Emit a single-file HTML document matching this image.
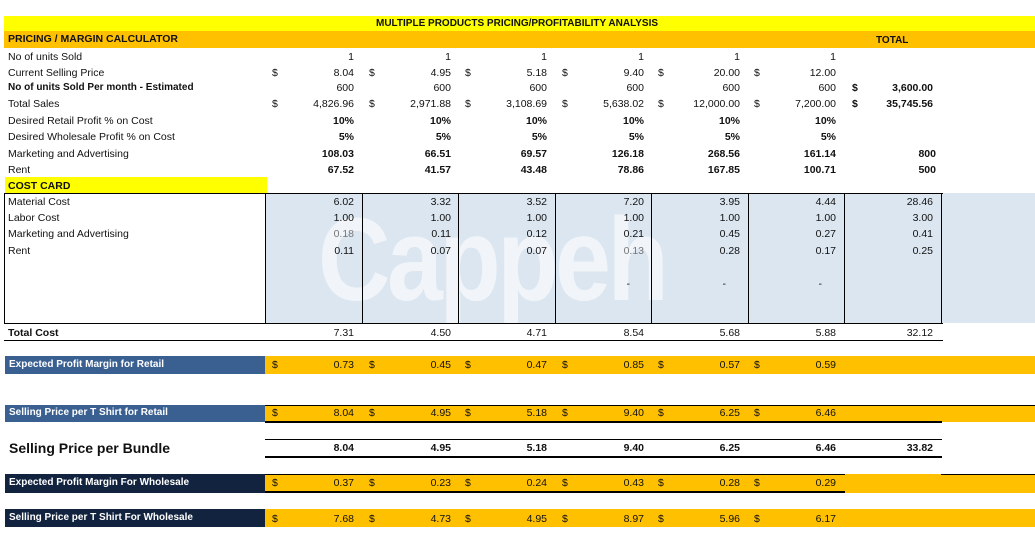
<!DOCTYPE html>
<html><head><meta charset="utf-8"><style>
*{margin:0;padding:0;box-sizing:border-box}
body{width:1035px;height:535px;background:#fff;position:relative;overflow:hidden;font-family:"Liberation Sans",Arial,sans-serif;font-size:10.5px;color:#111}
div{position:absolute}
.t{white-space:nowrap;line-height:14px}
.r{white-space:nowrap;line-height:14px;text-align:right;width:100px}
.b{font-weight:bold}
.w{color:#fff;font-weight:bold}
.g{color:#777}
.hl{height:1px;background:#000}
.hl2{height:2px;background:#000}
.vl{width:1px;background:#000}
</style></head><body>
<!-- bands -->
<div style="left:4px;top:16px;width:1031px;height:15px;background:#ffff00"></div>
<div style="left:4px;top:31px;width:1031px;height:17px;background:#ffc000"></div>
<div class="t b" style="left:376px;top:17px;font-size:10px">MULTIPLE PRODUCTS PRICING/PROFITABILITY ANALYSIS</div>
<div class="t b" style="left:8px;top:32px">PRICING / MARGIN CALCULATOR</div>
<div class="t b" style="left:876px;top:34px;font-size:10px">TOTAL</div>

<!-- cost card light blue -->
<div style="left:265px;top:193px;width:770px;height:130px;background:#dce6f0"></div>
<div style="left:318px;top:190px;width:420px;font-size:118px;font-weight:bold;color:#fff;opacity:.6;line-height:140px;letter-spacing:-4px;transform:scaleX(.85);transform-origin:left">Cappeh</div>

<!-- labels -->
<div class="t" style="left:8px;top:50px">No of units Sold</div>
<div class="t" style="left:8px;top:66px">Current Selling Price</div>
<div class="t b" style="left:8px;top:81px;font-size:10px">No of units Sold Per month - Estimated</div>
<div class="t" style="left:8px;top:97px">Total Sales</div>
<div class="t" style="left:8px;top:114px">Desired Retail Profit % on Cost</div>
<div class="t" style="left:8px;top:130px">Desired Wholesale Profit % on Cost</div>
<div class="t" style="left:8px;top:147px">Marketing and Advertising</div>
<div class="t" style="left:8px;top:163px">Rent</div>
<div style="left:5px;top:177px;width:262px;height:16px;background:#ffff00"></div>
<div class="t b" style="left:8px;top:179px">COST CARD</div>
<div class="t" style="left:8px;top:195px">Material Cost</div>
<div class="t" style="left:8px;top:211px">Labor Cost</div>
<div class="t" style="left:8px;top:227px">Marketing and Advertising</div>
<div class="t" style="left:8px;top:244px">Rent</div>
<div class="t b" style="left:8px;top:326px">Total Cost</div>

<!-- cost box lines -->
<div class="hl" style="left:4px;top:193px;width:939px"></div>
<div class="hl" style="left:4px;top:323px;width:939px"></div>
<div class="vl" style="left:4px;top:193px;height:131px"></div>
<div class="vl" style="left:265px;top:193px;height:131px"></div>
<div class="vl" style="left:362px;top:193px;height:131px"></div>
<div class="vl" style="left:458px;top:193px;height:131px"></div>
<div class="vl" style="left:555px;top:193px;height:131px"></div>
<div class="vl" style="left:651px;top:193px;height:131px"></div>
<div class="vl" style="left:748px;top:193px;height:131px"></div>
<div class="vl" style="left:844px;top:193px;height:131px"></div>
<div class="vl" style="left:941px;top:193px;height:131px"></div>
<div class="hl" style="left:4px;top:340px;width:939px"></div>

<!-- colored bars -->
<div style="left:5px;top:356px;width:260px;height:18px;background:#3a6092"></div>
<div style="left:265px;top:356px;width:770px;height:18px;background:#ffc000"></div>
<div class="t w" style="left:9px;top:358px;font-size:10px">Expected Profit Margin for Retail</div>

<div style="left:5px;top:405px;width:260px;height:17px;background:#3a6092"></div>
<div style="left:265px;top:405px;width:770px;height:17px;background:#ffc000"></div>
<div class="hl" style="left:265px;top:405px;width:770px"></div>
<div class="hl2" style="left:265px;top:421px;width:677px"></div>
<div class="t w" style="left:9px;top:406px;font-size:10px">Selling Price per T Shirt for Retail</div>

<div class="t b" style="left:9px;top:439px;font-size:14px;line-height:18px">Selling Price per Bundle</div>
<div class="hl" style="left:265px;top:439px;width:677px"></div>
<div class="hl2" style="left:265px;top:456px;width:677px"></div>

<div style="left:5px;top:474px;width:260px;height:19px;background:#12233f"></div>
<div style="left:265px;top:474px;width:770px;height:19px;background:#ffc000"></div>
<div class="hl" style="left:265px;top:474px;width:580px"></div>
<div class="hl" style="left:941px;top:474px;width:94px"></div>
<div class="hl2" style="left:265px;top:491px;width:580px"></div>
<div class="t w" style="left:9px;top:476px;font-size:10px">Expected Profit Margin For Wholesale</div>

<div style="left:5px;top:509px;width:260px;height:18px;background:#12233f"></div>
<div style="left:265px;top:509px;width:770px;height:18px;background:#ffc000"></div>
<div class="t w" style="left:9px;top:511px;font-size:10px">Selling Price per T Shirt For Wholesale</div>

<!-- column 1 -->
<div class="r" style="left:254px;top:50px">1</div>
<div class="t" style="left:272px;top:66px">$</div><div class="r" style="left:254px;top:66px">8.04</div>
<div class="r" style="left:254px;top:81px">600</div>
<div class="t" style="left:272px;top:97px">$</div><div class="r" style="left:254px;top:97px">4,826.96</div>
<div class="r b" style="left:254px;top:114px">10%</div>
<div class="r b" style="left:254px;top:130px">5%</div>
<div class="r b" style="left:254px;top:147px">108.03</div>
<div class="r b" style="left:254px;top:163px">67.52</div>
<div class="r" style="left:254px;top:195px">6.02</div>
<div class="r" style="left:254px;top:211px">1.00</div>
<div class="r g" style="left:254px;top:227px">0.18</div>
<div class="r" style="left:254px;top:244px">0.11</div>
<div class="r" style="left:254px;top:326px">7.31</div>
<div class="t" style="left:272px;top:358px">$</div><div class="r" style="left:254px;top:358px">0.73</div>
<div class="t" style="left:272px;top:406px">$</div><div class="r" style="left:254px;top:406px">8.04</div>
<div class="r b" style="left:254px;top:441px">8.04</div>
<div class="t" style="left:272px;top:476px">$</div><div class="r" style="left:254px;top:476px">0.37</div>
<div class="t" style="left:272px;top:512px">$</div><div class="r" style="left:254px;top:512px">7.68</div>

<!-- column 2 -->
<div class="r" style="left:351px;top:50px">1</div>
<div class="t" style="left:369px;top:66px">$</div><div class="r" style="left:351px;top:66px">4.95</div>
<div class="r" style="left:351px;top:81px">600</div>
<div class="t" style="left:369px;top:97px">$</div><div class="r" style="left:351px;top:97px">2,971.88</div>
<div class="r b" style="left:351px;top:114px">10%</div>
<div class="r b" style="left:351px;top:130px">5%</div>
<div class="r b" style="left:351px;top:147px">66.51</div>
<div class="r b" style="left:351px;top:163px">41.57</div>
<div class="r" style="left:351px;top:195px">3.32</div>
<div class="r" style="left:351px;top:211px">1.00</div>
<div class="r" style="left:351px;top:227px">0.11</div>
<div class="r" style="left:351px;top:244px">0.07</div>
<div class="r" style="left:351px;top:326px">4.50</div>
<div class="t" style="left:369px;top:358px">$</div><div class="r" style="left:351px;top:358px">0.45</div>
<div class="t" style="left:369px;top:406px">$</div><div class="r" style="left:351px;top:406px">4.95</div>
<div class="r b" style="left:351px;top:441px">4.95</div>
<div class="t" style="left:369px;top:476px">$</div><div class="r" style="left:351px;top:476px">0.23</div>
<div class="t" style="left:369px;top:512px">$</div><div class="r" style="left:351px;top:512px">4.73</div>

<!-- column 3 -->
<div class="r" style="left:447px;top:50px">1</div>
<div class="t" style="left:465px;top:66px">$</div><div class="r" style="left:447px;top:66px">5.18</div>
<div class="r" style="left:447px;top:81px">600</div>
<div class="t" style="left:465px;top:97px">$</div><div class="r" style="left:447px;top:97px">3,108.69</div>
<div class="r b" style="left:447px;top:114px">10%</div>
<div class="r b" style="left:447px;top:130px">5%</div>
<div class="r b" style="left:447px;top:147px">69.57</div>
<div class="r b" style="left:447px;top:163px">43.48</div>
<div class="r" style="left:447px;top:195px">3.52</div>
<div class="r" style="left:447px;top:211px">1.00</div>
<div class="r" style="left:447px;top:227px">0.12</div>
<div class="r" style="left:447px;top:244px">0.07</div>
<div class="r" style="left:447px;top:326px">4.71</div>
<div class="t" style="left:465px;top:358px">$</div><div class="r" style="left:447px;top:358px">0.47</div>
<div class="t" style="left:465px;top:406px">$</div><div class="r" style="left:447px;top:406px">5.18</div>
<div class="r b" style="left:447px;top:441px">5.18</div>
<div class="t" style="left:465px;top:476px">$</div><div class="r" style="left:447px;top:476px">0.24</div>
<div class="t" style="left:465px;top:512px">$</div><div class="r" style="left:447px;top:512px">4.95</div>

<!-- column 4 -->
<div class="r" style="left:544px;top:50px">1</div>
<div class="t" style="left:562px;top:66px">$</div><div class="r" style="left:544px;top:66px">9.40</div>
<div class="r" style="left:544px;top:81px">600</div>
<div class="t" style="left:562px;top:97px">$</div><div class="r" style="left:544px;top:97px">5,638.02</div>
<div class="r b" style="left:544px;top:114px">10%</div>
<div class="r b" style="left:544px;top:130px">5%</div>
<div class="r b" style="left:544px;top:147px">126.18</div>
<div class="r b" style="left:544px;top:163px">78.86</div>
<div class="r" style="left:544px;top:195px">7.20</div>
<div class="r" style="left:544px;top:211px">1.00</div>
<div class="r" style="left:544px;top:227px">0.21</div>
<div class="r g" style="left:544px;top:244px">0.13</div>
<div class="r" style="left:530px;top:277px">-</div>
<div class="r" style="left:544px;top:326px">8.54</div>
<div class="t" style="left:562px;top:358px">$</div><div class="r" style="left:544px;top:358px">0.85</div>
<div class="t" style="left:562px;top:406px">$</div><div class="r" style="left:544px;top:406px">9.40</div>
<div class="r b" style="left:544px;top:441px">9.40</div>
<div class="t" style="left:562px;top:476px">$</div><div class="r" style="left:544px;top:476px">0.43</div>
<div class="t" style="left:562px;top:512px">$</div><div class="r" style="left:544px;top:512px">8.97</div>

<!-- column 5 -->
<div class="r" style="left:640px;top:50px">1</div>
<div class="t" style="left:658px;top:66px">$</div><div class="r" style="left:640px;top:66px">20.00</div>
<div class="r" style="left:640px;top:81px">600</div>
<div class="t" style="left:658px;top:97px">$</div><div class="r" style="left:640px;top:97px">12,000.00</div>
<div class="r b" style="left:640px;top:114px">10%</div>
<div class="r b" style="left:640px;top:130px">5%</div>
<div class="r b" style="left:640px;top:147px">268.56</div>
<div class="r b" style="left:640px;top:163px">167.85</div>
<div class="r" style="left:640px;top:195px">3.95</div>
<div class="r" style="left:640px;top:211px">1.00</div>
<div class="r" style="left:640px;top:227px">0.45</div>
<div class="r" style="left:640px;top:244px">0.28</div>
<div class="r" style="left:626px;top:277px">-</div>
<div class="r" style="left:640px;top:326px">5.68</div>
<div class="t" style="left:658px;top:358px">$</div><div class="r" style="left:640px;top:358px">0.57</div>
<div class="t" style="left:658px;top:406px">$</div><div class="r" style="left:640px;top:406px">6.25</div>
<div class="r b" style="left:640px;top:441px">6.25</div>
<div class="t" style="left:658px;top:476px">$</div><div class="r" style="left:640px;top:476px">0.28</div>
<div class="t" style="left:658px;top:512px">$</div><div class="r" style="left:640px;top:512px">5.96</div>

<!-- column 6 -->
<div class="r" style="left:736px;top:50px">1</div>
<div class="t" style="left:754px;top:66px">$</div><div class="r" style="left:736px;top:66px">12.00</div>
<div class="r" style="left:736px;top:81px">600</div>
<div class="t" style="left:754px;top:97px">$</div><div class="r" style="left:736px;top:97px">7,200.00</div>
<div class="r b" style="left:736px;top:114px">10%</div>
<div class="r b" style="left:736px;top:130px">5%</div>
<div class="r b" style="left:736px;top:147px">161.14</div>
<div class="r b" style="left:736px;top:163px">100.71</div>
<div class="r" style="left:736px;top:195px">4.44</div>
<div class="r" style="left:736px;top:211px">1.00</div>
<div class="r" style="left:736px;top:227px">0.27</div>
<div class="r" style="left:736px;top:244px">0.17</div>
<div class="r" style="left:722px;top:277px">-</div>
<div class="r" style="left:736px;top:326px">5.88</div>
<div class="t" style="left:754px;top:358px">$</div><div class="r" style="left:736px;top:358px">0.59</div>
<div class="t" style="left:754px;top:406px">$</div><div class="r" style="left:736px;top:406px">6.46</div>
<div class="r b" style="left:736px;top:441px">6.46</div>
<div class="t" style="left:754px;top:476px">$</div><div class="r" style="left:736px;top:476px">0.29</div>
<div class="t" style="left:754px;top:512px">$</div><div class="r" style="left:736px;top:512px">6.17</div>

<!-- total -->
<div class="t b" style="left:852px;top:81px">$</div><div class="r b" style="left:833px;top:81px">3,600.00</div>
<div class="t b" style="left:852px;top:97px">$</div><div class="r b" style="left:833px;top:97px">35,745.56</div>
<div class="r b" style="left:836px;top:147px">800</div>
<div class="r b" style="left:836px;top:163px">500</div>
<div class="r" style="left:833px;top:195px">28.46</div>
<div class="r" style="left:833px;top:211px">3.00</div>
<div class="r" style="left:833px;top:227px">0.41</div>
<div class="r" style="left:833px;top:244px">0.25</div>
<div class="r" style="left:833px;top:326px">32.12</div>
<div class="r b" style="left:833px;top:441px">33.82</div>
</body></html>
